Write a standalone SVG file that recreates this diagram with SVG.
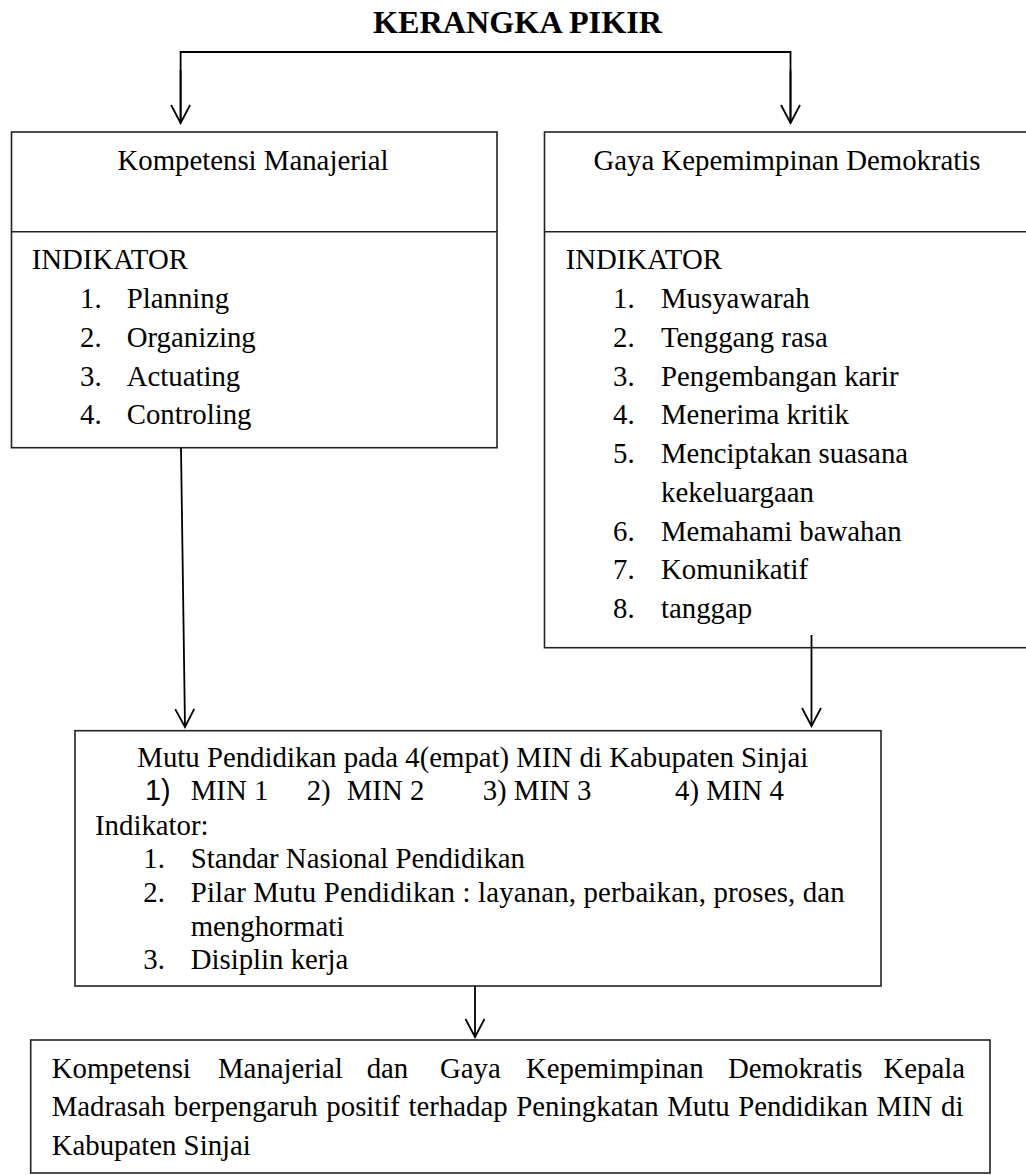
<svg xmlns="http://www.w3.org/2000/svg" width="1026" height="1175" viewBox="0 0 1026 1175">
<style>
.box{fill:#fff;stroke:#222;stroke-width:1.6}
.div{stroke:#222;stroke-width:1.6}
.t{font-family:"Liberation Serif","Times New Roman",serif;font-size:28.8px;fill:#000}
.s{font-family:"Liberation Sans",Arial,sans-serif;font-size:28.8px;fill:#000}
.title{font-family:"Liberation Serif","Times New Roman",serif;font-size:31px;font-weight:bold;fill:#000}
.c{fill:none;stroke:#000;stroke-width:1.8}
</style>
<defs>
<marker id="arr" viewBox="-19 -11 21 22" refX="0" refY="0" markerWidth="21" markerHeight="22" markerUnits="userSpaceOnUse" orient="auto" overflow="visible">
<path d="M-18,-9.5 L0,0 L-18,9.5" fill="none" stroke="#000" stroke-width="1.8"/>
</marker>
</defs>
<rect width="1026" height="1175" fill="#fff"/>
<text id="title" class="title" x="517.5" y="33" text-anchor="middle" textLength="289" lengthAdjust="spacingAndGlyphs">KERANGKA PIKIR</text>

<g id="kompetensi">
<rect class="box" x="11.5" y="132" width="485.5" height="315.7"/>
<line class="div" x1="11.5" y1="231.7" x2="497" y2="231.7"/>
<text class="t" x="253" y="170" text-anchor="middle">Kompetensi Manajerial</text>
<text class="t" x="31.7" y="268.5">INDIKATOR</text>
<text class="t" x="80" y="308">1.</text><text class="t" x="126.7" y="308">Planning</text>
<text class="t" x="80" y="347">2.</text><text class="t" x="126.7" y="347">Organizing</text>
<text class="t" x="80" y="385.5">3.</text><text class="t" x="126.7" y="385.5">Actuating</text>
<text class="t" x="80" y="424">4.</text><text class="t" x="126.7" y="424">Controling</text>
</g>

<g id="gaya">
<rect class="box" x="544.5" y="132" width="500" height="515.7"/>
<line class="div" x1="544.5" y1="231.7" x2="1044.5" y2="231.7"/>
<text class="t" x="787" y="170" text-anchor="middle">Gaya Kepemimpinan Demokratis</text>
<text class="t" x="565.7" y="269">INDIKATOR</text>
<text class="t" x="613" y="308">1.</text><text class="t" x="661" y="308">Musyawarah</text>
<text class="t" x="613" y="347">2.</text><text class="t" x="661" y="347">Tenggang rasa</text>
<text class="t" x="613" y="386">3.</text><text class="t" x="661" y="386">Pengembangan karir</text>
<text class="t" x="613" y="424">4.</text><text class="t" x="661" y="424">Menerima kritik</text>
<text class="t" x="613" y="463">5.</text><text class="t" x="661" y="463">Menciptakan suasana</text>
<text class="t" x="661" y="502">kekeluargaan</text>
<text class="t" x="613" y="541">6.</text><text class="t" x="661" y="541">Memahami bawahan</text>
<text class="t" x="613" y="579">7.</text><text class="t" x="661" y="579">Komunikatif</text>
<text class="t" x="613" y="618">8.</text><text class="t" x="661" y="618">tanggap</text>
</g>

<g id="mutu">
<rect class="box" x="75" y="730.7" width="806" height="255.3"/>
<text class="t" x="137.3" y="767.3">Mutu Pendidikan pada 4(empat) MIN di Kabupaten Sinjai</text>
<text class="s" x="145" y="800">1)</text><text class="t" x="190.7" y="800">MIN 1</text>
<text class="t" x="306.7" y="800">2)</text><text class="t" x="346.7" y="800">MIN 2</text>
<text class="t" x="482.7" y="800">3) MIN 3</text>
<text class="t" x="675" y="800">4) MIN 4</text>
<text class="t" x="95" y="835">Indikator:</text>
<text class="t" x="143.3" y="868.3">1.</text><text class="t" x="190.7" y="868.3">Standar Nasional Pendidikan</text>
<text class="t" x="143.3" y="901.7">2.</text><text class="t" x="190.7" y="901.7" textLength="654" lengthAdjust="spacing">Pilar Mutu Pendidikan : layanan, perbaikan, proses, dan</text>
<text class="t" x="190.7" y="936">menghormati</text>
<text class="t" x="143.3" y="969.3">3.</text><text class="t" x="190.7" y="969.3">Disiplin kerja</text>
</g>

<g id="kesimpulan">
<rect class="box" x="30.7" y="1040" width="959.3" height="133"/>
<text class="t" y="1078.3"><tspan x="51.7">Kompetensi</tspan><tspan x="218">Manajerial</tspan><tspan x="366.7">dan</tspan><tspan x="440">Gaya</tspan><tspan x="526">Kepemimpinan</tspan><tspan x="728">Demokratis</tspan></text>
<text class="t" x="965" y="1078.3" text-anchor="end">Kepala</text>
<text class="t" x="51.7" y="1116" word-spacing="1.4">Madrasah berpengaruh positif terhadap Peningkatan Mutu Pendidikan MIN di</text>
<text class="t" x="51.7" y="1155">Kabupaten Sinjai</text>
</g>

<g id="connectors">
<path class="c" d="M180.6,123 V52 H790.5 V123"/>
<line class="c" x1="180.6" y1="70" x2="180.6" y2="123" marker-end="url(#arr)"/>
<line class="c" x1="790.5" y1="70" x2="790.5" y2="123" marker-end="url(#arr)"/>
<line class="c" x1="181" y1="448" x2="185" y2="727" marker-end="url(#arr)"/>
<line class="c" x1="811.5" y1="635" x2="811.5" y2="726" marker-end="url(#arr)"/>
<line class="c" x1="475" y1="986" x2="475" y2="1037" marker-end="url(#arr)"/>
</g>
</svg>
